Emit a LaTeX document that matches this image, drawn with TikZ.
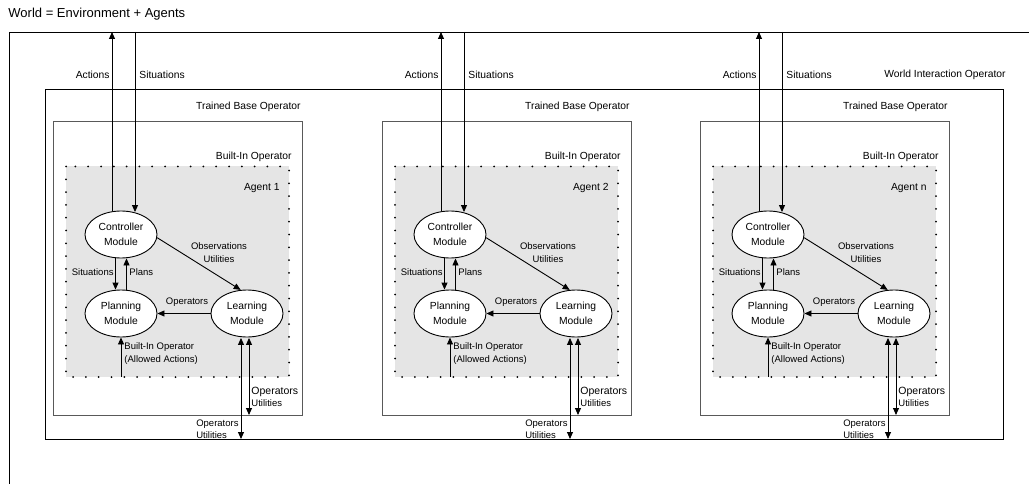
\documentclass[tikz,border=0pt]{standalone}
\usepackage{fontspec}
\setmainfont{Liberation Sans}
\usetikzlibrary{arrows.meta,shapes.geometric}

\tikzset{
  module/.style={ellipse,draw,fill=white,minimum width=72pt,minimum height=47pt,
    inner sep=0pt,align=center,font=\fontsize{10.3}{14.5}\selectfont},
  lbl/.style={font=\fontsize{10.3}{12}\selectfont,inner sep=0pt},
  small/.style={font=\fontsize{9.5}{12.5}\selectfont,inner sep=0pt,align=left},
  flow/.style={-{Triangle[length=7pt,width=6pt]}},
  bothflow/.style={{Triangle[length=7pt,width=6pt]}-{Triangle[length=7pt,width=6pt]}},
  dotrule/.style={line width=2pt,line cap=round,dash pattern=on 0pt off 12.8pt},
}

\begin{document}
\begin{tikzpicture}[x=1pt,y=-1pt,line width=0.9pt]
    \useasboundingbox (0,0) rectangle (1029,484);

    % world and world interaction operator
    \node[lbl,anchor=west,font=\fontsize{13}{15}\selectfont] (world) at (8,14) {World = Environment + Agents};
    \draw (1029,32) -- (9,32) -- (9,484);
    \draw (45,89) rectangle (1003,439);
    \node[lbl,anchor=east] (wio) at (1006,75) {World Interaction Operator};

    \foreach \o/\n in {0/1,329/2,647/n} {
        \begin{scope}[shift={(\o,0)}]
            \draw[black!65] (53,121) rectangle (302,415);
            \node[lbl,anchor=east] (tbo\n) at (301,107) {Trained Base Operator};
            \fill[black!10] (66,166.5) rectangle (289,377);
            \draw[dotrule] (66,166.5) rectangle (289,377);
            \node[lbl,anchor=east] (bio\n) at (292,157) {Built-In Operator};
            \node[lbl,anchor=east] (agent\n) at (280,188) {Agent \n};

            \node[module] (ctrl\n) at (121,234.5) {Controller\\Module};
            \node[module] (plan\n) at (121,313.5) {Planning\\Module};
            \node[module] (lrn\n) at (247,313.5) {Learning\\Module};

            % links to the world
            \coordinate (wa\n) at (112,32);
            \coordinate (ws\n) at (135,32);
            \draw[flow] (wa\n |- ctrl\n.north) -- (wa\n);
            \draw[flow] (ws\n) -- ([yshift=-1.5pt]ws\n |- ctrl\n.north);
            \node[lbl,anchor=east] (act\n) at (110,75) {Actions};
            \node[lbl,anchor=west] (sit\n) at (139,75) {Situations};

            % inside the agent
            \draw[flow] ([xshift=-5.5pt]ctrl\n.south) -- ([xshift=-5.5pt]plan\n.north);
            \draw[flow] ([xshift=5.5pt]plan\n.north) -- ([xshift=5.5pt]ctrl\n.south);
            \node[small,anchor=east] (sits\n) at (114,272) {Situations};
            \node[small,anchor=west] (plans\n) at (129,272) {Plans};

            \draw[flow] (ctrl\n.-5) -- (lrn\n.105);
            \node[small,align=center] (obs\n) at (219,252.5) {Observations\\Utilities};

            \draw[flow] (lrn\n.west) -- (plan\n.east);
            \node[small] (ops\n) at (187,302) {Operators};

            \coordinate (bi\n) at (121,377);
            \draw[flow] (bi\n) -- (plan\n.south);
            \node[small,anchor=west] (bil\n) at (124,353.5) {Built-In Operator\\(Allowed Actions)};

            % operators and utilities out of the learning module
            \coordinate (lo\n) at (241,439);
            \coordinate (lt\n) at (249,415);
            \draw[bothflow] (lo\n) -- ([yshift=-0.5pt]lo\n |- lrn\n.south);
            \draw[bothflow] (lt\n) -- ([yshift=-0.5pt]lt\n |- lrn\n.south);
            \node[small,anchor=west] (out\n) at (251,397) {{\fontsize{10.5}{12.5}\selectfont Operators}\\Utilities};
            \node[small,anchor=east] (up\n) at (239,429) {Operators\\Utilities};
        \end{scope}
    }
\end{tikzpicture}
\end{document}
